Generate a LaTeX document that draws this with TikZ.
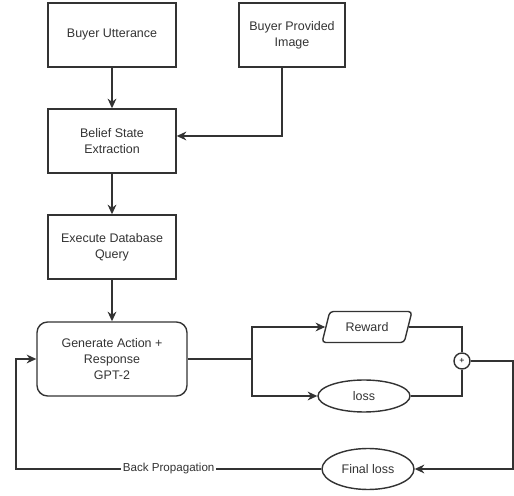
\documentclass[tikz,border=0pt]{standalone}
\usepackage{fontspec}
\setmainfont{Liberation Sans}
\usepackage{xcolor}
\usepackage{tikz}
\usetikzlibrary{shapes.geometric,arrows.meta}
\definecolor{ink}{HTML}{333333}
\tikzset{
  line/.style={draw=ink, line width=0.75pt},
  arr/.style={line, -{Stealth[length=5.5pt,width=5pt]}},
  box/.style={draw=ink, line width=0.8pt, align=center, text=ink, font=\fontsize{7.1}{9}\selectfont, inner sep=1pt},
  rbox/.style={box, rounded corners=6pt},
  oval/.style={box, ellipse, inner sep=0pt},
  slant/.style={box, trapezium, trapezium stretches=true, trapezium left angle=64, trapezium right angle=116, rounded corners=2pt, inner sep=0pt},
  plusc/.style={draw=ink, line width=0.8pt, circle, minimum size=0.32cm, inner sep=0pt, font=\fontsize{5}{5}\selectfont},
  lab/.style={fill=white, text=ink, inner sep=1pt, font=\fontsize{6.6}{8}\selectfont},
}

\begin{document}
\begin{tikzpicture}[x=0.02cm, y=-0.02cm]
  \useasboundingbox (0,0) rectangle (514,496);
  % left column
  \node[box, minimum width=2.56cm, minimum height=1.28cm] (utt) at (112,35) {Buyer Utterance};
  \node[box, minimum width=2.12cm, minimum height=1.28cm] (img) at (292,35) {Buyer Provided\\Image};
  \node[box, minimum width=2.56cm, minimum height=1.28cm] (belief) at (112,141) {Belief State\\Extraction};
  \node[box, minimum width=2.56cm, minimum height=1.28cm] (query) at (112,247) {Execute Database\\Query};
  \node[rbox, minimum width=3.0cm, minimum height=1.48cm] (gen) at (112,359) {Generate Action +\\Response\\GPT-2};
  % right side
  \node[slant, minimum width=1.8cm, minimum height=0.62cm] (rew) at (367,327) {Reward};
  \node[oval, minimum width=1.84cm, minimum height=0.64cm] (loss) at (364,396) {loss};
  \node[plusc] (plus) at (462,361) {+};
  \node[oval, minimum width=1.84cm, minimum height=0.82cm] (final) at (368,469) {Final loss};
  \coordinate (fork) at (252,359);
  \coordinate (edge) at (513,361);
  \coordinate (back) at (16,469);

  \draw[arr] (utt) -- (belief);
  \draw[arr] ([xshift=-0.2cm]img.south) |- ([yshift=0.1cm]belief.east);
  \draw[arr] (belief) -- (query);
  \draw[arr] (query) -- (gen);
  \draw[line] (gen.east) -- (fork);
  \draw[arr] (fork) |- (rew.west);
  \draw[arr] (fork) |- (loss.west);
  \draw[line] (rew.east) -| (plus.north);
  \draw[line] (loss.east) -| (plus.south);
  \draw[arr] (plus.east) -- (edge) |- (final.east);
  \draw[arr] (final.west) -- node[lab] {Back Propagation} (back) |- (gen.west);
\end{tikzpicture}
\end{document}
